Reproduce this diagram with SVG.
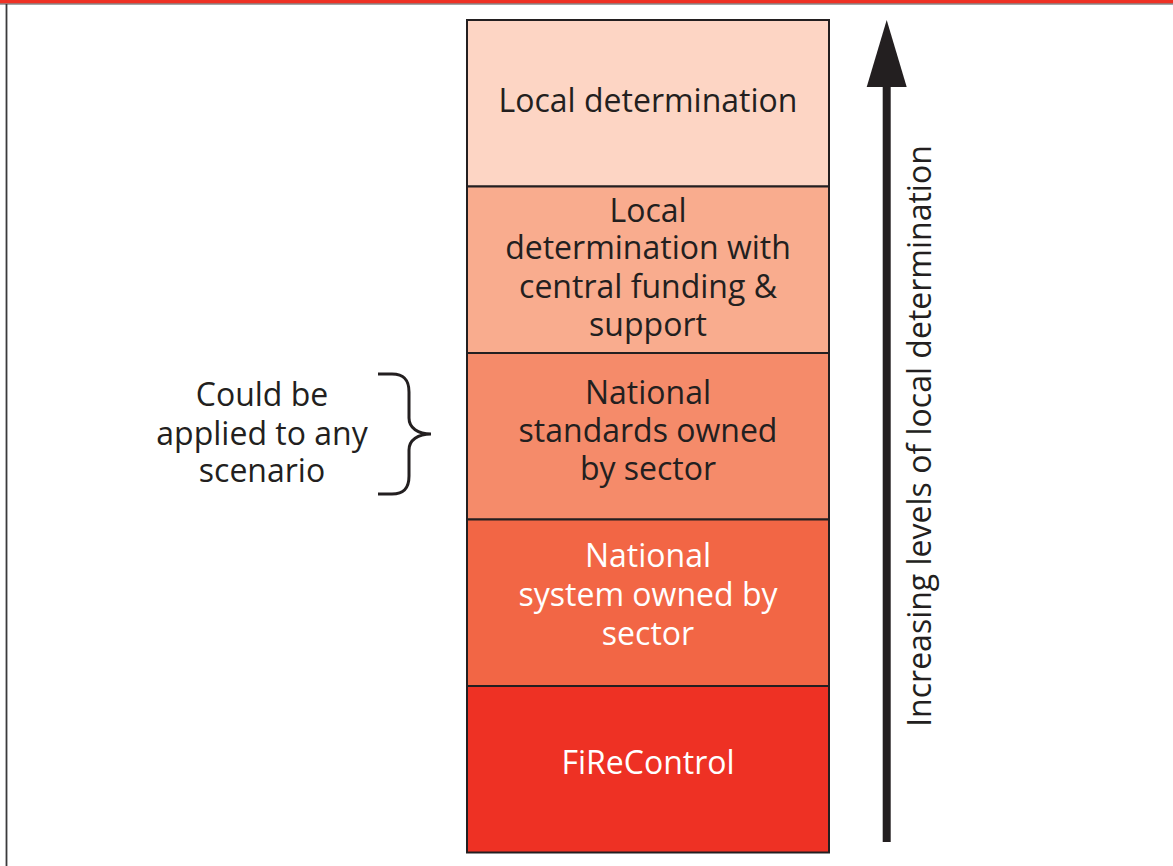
<svg xmlns="http://www.w3.org/2000/svg" width="1173" height="866" viewBox="0 0 1173 866">
<style>
.t{font-family:"Open Sans","Noto Sans","Liberation Sans",sans-serif;font-size:32px;text-anchor:middle;fill:#231f20}
.w{fill:#ffffff}
.box{stroke:#231f20;stroke-width:2}
</style>
<rect x="0" y="0" width="1173" height="866" fill="#ffffff"/>
<rect x="0" y="0" width="1173" height="3.5" fill="#ee3124"/>
<line x1="0" y1="4" x2="1173" y2="4" stroke="#4d4d4f" stroke-width="1.2"/>
<line x1="6.5" y1="4" x2="6.5" y2="866" stroke="#3a3a3c" stroke-width="1.8"/>
<g id="n1"><rect class="box" x="467" y="20" width="362" height="166.5" fill="#fdd5c4"/><text class="t" x="648" y="112">Local determination</text></g>
<g id="n2"><rect class="box" x="467" y="186.5" width="362" height="166.5" fill="#f9ac8e"/><text class="t" x="648" y="222">Local</text><text class="t" x="648" y="259">determination with</text><text class="t" x="648" y="298">central funding &amp;</text><text class="t" x="648" y="336">support</text></g>
<g id="n3"><rect class="box" x="467" y="353" width="362" height="166.5" fill="#f58b6a"/><text class="t" x="648" y="404">National</text><text class="t" x="648" y="442">standards owned</text><text class="t" x="648" y="480">by sector</text></g>
<g id="n4"><rect class="box" x="467" y="519.5" width="362" height="166.5" fill="#f26645"/><text class="t w" x="648" y="567">National</text><text class="t w" x="648" y="606">system owned by</text><text class="t w" x="648" y="645">sector</text></g>
<g id="n5"><rect class="box" x="467" y="686" width="362" height="166.5" fill="#ee3124"/><text class="t w" x="648" y="774">FiReControl</text></g>
<g id="note"><text class="t" x="262" y="406">Could be</text><text class="t" x="262" y="445">applied to any</text><text class="t" x="262" y="482">scenario</text>
<path d="M378 374 H392 C404 374 409 380 409 392 V418 C409 428 418 434 431 434 C418 434 409 440 409 450 V476 C409 488 404 494 392 494 H378" fill="none" stroke="#231f20" stroke-width="3"/></g>
<g id="connectors"><rect x="882.7" y="84" width="8" height="758" fill="#231f20"/><polygon points="886.7,20 906.7,87 866.7,87" fill="#231f20"/>
<text class="t" transform="translate(931,436) rotate(-90)" x="0" y="0">Increasing levels of local determination</text></g>
</svg>
